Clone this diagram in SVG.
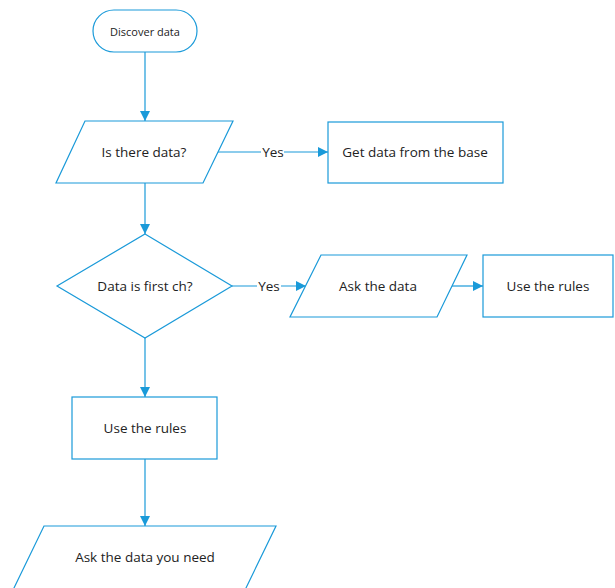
<svg xmlns="http://www.w3.org/2000/svg" width="615" height="588" viewBox="0 0 615 588">
<defs>
<marker id="arr" viewBox="0 0 10 10" refX="10" refY="5" markerWidth="10" markerHeight="10" markerUnits="userSpaceOnUse" orient="auto">
<path d="M0,0 L10,5 L0,10 z" fill="#1a9ad9"/>
</marker>
<style>
.s{fill:#fff;stroke:#1a9ad9;stroke-width:1.2}
.c{fill:none;stroke:#1a9ad9;stroke-width:1.2}
.t{font-family:"Open Sans","Noto Sans",sans-serif;font-size:13.5px;fill:#222;text-anchor:middle;dominant-baseline:central}
.sm{font-size:11px}
</style>
</defs>
<rect width="615" height="588" fill="#fff"/>
<g id="connectors">
<line class="c" x1="145" y1="52" x2="145" y2="121" marker-end="url(#arr)"/>
<polyline class="c" points="218,152 328,152" marker-end="url(#arr)"/>
<line class="c" x1="145" y1="183" x2="145" y2="234" marker-end="url(#arr)"/>
<polyline class="c" points="232,286 306,286" marker-end="url(#arr)"/>
<line class="c" x1="452" y1="286" x2="483" y2="286" marker-end="url(#arr)"/>
<line class="c" x1="145" y1="338" x2="145" y2="397" marker-end="url(#arr)"/>
<line class="c" x1="145" y1="459" x2="145" y2="526" marker-end="url(#arr)"/>
<rect x="261" y="144" width="23" height="16" fill="#fff"/>
<text class="t" x="273" y="152">Yes</text>
<rect x="257" y="278" width="24" height="16" fill="#fff"/>
<text class="t" x="269" y="286">Yes</text>
</g>
<g id="start">
<rect class="s" x="93" y="10" width="104" height="42" rx="21" ry="21"/>
<text class="t sm" x="145" y="31">Discover data</text>
</g>
<g id="is-there-data">
<polygon class="s" points="85,121 233,121 203,183 56,183"/>
<text class="t" x="144" y="152">Is there data?</text>
</g>
<g id="get-data">
<rect class="s" x="328" y="122" width="175" height="61"/>
<text class="t" x="415" y="152">Get data from the base</text>
</g>
<g id="first-ch">
<polygon class="s" points="145,234 232,286 145,338 57,286"/>
<text class="t" x="145" y="286">Data is first ch?</text>
</g>
<g id="ask-data">
<polygon class="s" points="321,255 467,255 437,317 290,317"/>
<text class="t" x="378" y="286">Ask the data</text>
</g>
<g id="use-rules-right">
<rect class="s" x="483" y="255" width="130" height="62"/>
<text class="t" x="548" y="286">Use the rules</text>
</g>
<g id="use-rules">
<rect class="s" x="72" y="397" width="145" height="62"/>
<text class="t" x="145" y="428">Use the rules</text>
</g>
<g id="ask-need">
<polygon class="s" points="44,526 276,526 245.5,589 13.5,589"/>
<text class="t" x="145" y="557">Ask the data you need</text>
</g>
</svg>
